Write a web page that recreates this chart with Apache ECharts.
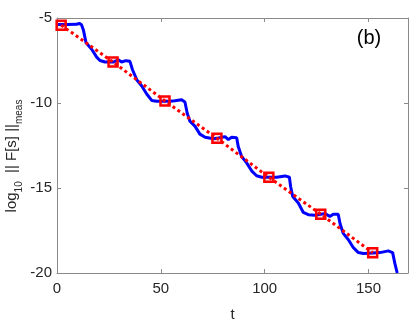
<!doctype html>
<html>
    <head>
        <meta charset="utf-8">
        <title>log10 || F[s] || meas</title>
        <style>
            html, body { margin: 0; padding: 0; background: #fff; }
            #main { width: 409px; height: 327px; }
        </style>
    </head>
    <body>
        <div id="main"></div>
        <script src="https://cdn.jsdelivr.net/npm/echarts@6/dist/echarts.min.js"></script>
        <script>
            var blueT = [0.5, 5, 9.5, 10.7, 11.8, 12.7, 14, 16.7, 19.1, 20.7, 23.1, 27.1, 29.5, 31.1, 33.2, 35.1,
                36.4, 38.4, 40.8, 43.2, 45.6, 48, 52, 54.4, 56.8, 60, 61.6, 62.7, 64, 66.4, 68.8, 71.3, 75.3, 77,
                79.3, 80.9, 82.5, 84.1, 86.5, 87.3, 88.9, 91.3, 93.7, 96.1, 98.6, 102, 105.8, 109.8, 111.9, 112.5,
                113.5, 116.2, 118.6, 121, 124.2, 127, 129, 129.8, 131.4, 133, 135.4, 136.3, 137.8, 140.3, 142.7,
                145.1, 147.5, 152, 155.5, 159.5, 161.6, 162.7, 163.8];
            var blueV = [-5.38, -5.38, -5.37, -5.31, -5.4, -5.7, -6.46, -6.84, -7.3, -7.5, -7.59, -7.59, -7.46, -7.59, -7.51, -7.55,
                -8.06, -8.63, -9.0, -9.47, -9.85, -9.9, -9.9, -9.89, -9.87, -9.81, -9.94, -10.6, -11.07, -11.36, -11.83, -12.02, -12.1, -12.08,
                -12.02, -11.98, -12.15, -12.02, -12.05, -12.58, -13.15, -13.52, -13.99, -14.28, -14.37, -14.37, -14.37, -14.29, -14.37, -14.93,
                -15.5, -15.88, -16.44, -16.57, -16.6, -16.55, -16.5, -16.44, -16.67, -16.54, -16.55, -17.1, -17.67, -18.04, -18.51,
                -18.8, -18.85, -18.82, -18.8, -18.7, -18.8, -19.45, -20];

            // red sampled points
            var redT = [2, 27, 52, 77, 102, 127, 152];
            var redV = [-5.42, -7.59, -9.88, -12.07, -14.37, -16.54, -18.81];

            var xTicks = [0, 50, 100, 150];
            var yTicks = [-20, -15, -10, -5];

            function pairs(xs, ys) {
                var out = [];
                for (var i = 0; i < xs.length; i++) {
                    out.push([xs[i], ys[i]]);
                }
                return out;
            }

            var axisGray = '#8a8a8a';
            var labelColor = '#262626';
            var font = 'Liberation Sans, Arial, Helvetica, sans-serif';

            var chart = echarts.init(document.getElementById('main'), null, { renderer: 'canvas' });

            function boxAxis(pos, isX, show) {
                var a = {
                    type: 'value',
                    position: pos,
                    min: isX ? 0 : -20,
                    max: isX ? 169 : -5,
                    interval: isX ? 50 : 5,
                    splitLine: { show: false },
                    axisLine: { show: true, onZero: false, lineStyle: { color: axisGray, width: 1 } },
                    axisTick: { show: true, inside: true, length: 4, lineStyle: { color: axisGray } },
                    axisLabel: {
                        show: show,
                        color: labelColor,
                        fontFamily: font,
                        fontSize: 15,
                        margin: isX ? 8 : 5,
                        showMaxLabel: isX ? false : true
                    }
                };
                return a;
            }

            var xBottom = boxAxis('bottom', true, true);
            xBottom.name = 't';
            xBottom.nameLocation = 'middle';
            xBottom.nameGap = 34;
            xBottom.nameTextStyle = { color: labelColor, fontFamily: font, fontSize: 15 };

            chart.setOption({
                animation: false,
                backgroundColor: '#ffffff',
                grid: { left: 57, right: 1, top: 18, bottom: 44 },
                xAxis: [xBottom, boxAxis('top', true, false)],
                yAxis: [boxAxis('left', false, true), boxAxis('right', false, false)],
                graphic: [{
                    type: 'text',
                    x: 14,
                    y: 156,
                    rotation: Math.PI / 2,
                    style: {
                        text: '{a|log}{s|10}{a|  || F[s] ||}{s|meas}',
                        align: 'center',
                        verticalAlign: 'middle',
                        fill: labelColor,
                        rich: {
                            a: { fontFamily: font, fontSize: 15, lineHeight: 20, verticalAlign: 'top', fill: labelColor },
                            s: { fontFamily: font, fontSize: 10, lineHeight: 12, verticalAlign: 'bottom', fill: labelColor }
                        }
                    }
                }, {
                    type: 'text',
                    x: 369,
                    y: 38,
                    style: {
                        text: '(b)',
                        align: 'center',
                        verticalAlign: 'middle',
                        fill: '#000',
                        font: '20px ' + font
                    }
                }],
                series: [{
                    type: 'line',
                    data: pairs(blueT, blueV),
                    showSymbol: false,
                    symbol: 'none',
                    lineStyle: { color: '#0000ff', width: 3 },
                    z: 2
                }, {
                    type: 'line',
                    data: pairs(redT, redV),
                    symbol: 'rect',
                    symbolSize: 9,
                    itemStyle: { color: 'rgba(255,0,0,0.12)', borderColor: '#ff0000', borderWidth: 2.5 },
                    lineStyle: { color: '#ff0000', width: 3, type: [3, 3] },
                    z: 3
                }]
            });

            window.addEventListener('resize', chart.resize);
        </script>
    </body>
</html>
